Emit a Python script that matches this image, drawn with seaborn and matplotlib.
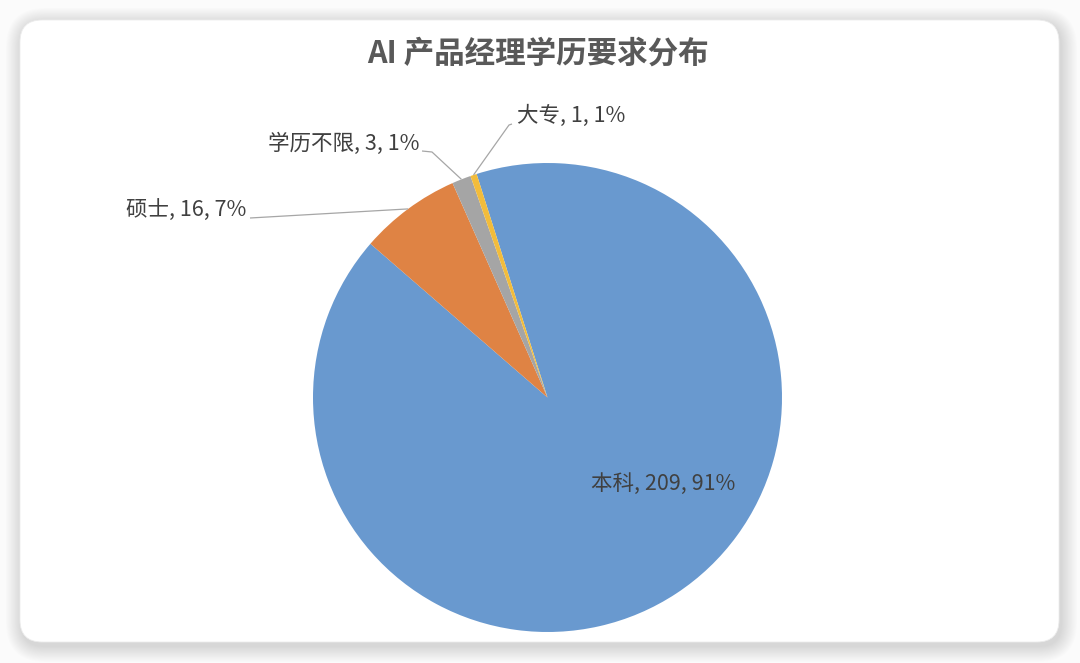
import numpy as np
import matplotlib
matplotlib.use("Agg")
import matplotlib.pyplot as plt
from matplotlib.patches import FancyBboxPatch
import seaborn as sns

# data
categories = ["本科", "硕士", "学历不限", "大专"]
counts = [209, 16, 3, 1]
percent_labels = ["91%", "7%", "1%", "1%"]
colors = ["#6999CF", "#DF8344", "#A5A5A5", "#F2BC3B"]
title = "AI 产品经理学历要求分布"

sns.set_theme(style="white")
plt.rcParams["font.family"] = ["Noto Sans CJK SC", "DejaVu Sans"]

W, H = 1080, 663
fig = plt.figure(figsize=(W / 100, H / 100), dpi=100, facecolor="#fbfbfb")
ax = fig.add_axes([0, 0, 1, 1])
ax.set_xlim(0, W)
ax.set_ylim(0, H)
ax.set_aspect("equal")
ax.axis("off")


def py(y):
    # pixel row (from top) -> data y
    return H - y


# card with soft shadow
cx0, cy0, cx1, cy1 = 20, 20, 1059, 642
for k in range(18, 0, -1):
    ax.add_patch(FancyBboxPatch((cx0 + 2 - k * 0.9, py(cy1) - 4 - k * 0.9),
                                cx1 - cx0 + k * 1.8, cy1 - cy0 + k * 1.8,
                                boxstyle=f"round,pad=0,rounding_size={22 + k}",
                                facecolor="#000000", edgecolor="none",
                                alpha=0.009, zorder=1))
ax.add_patch(FancyBboxPatch((cx0, py(cy1)), cx1 - cx0, cy1 - cy0,
                            boxstyle="round,pad=0,rounding_size=22",
                            facecolor="white", edgecolor="#ececec",
                            linewidth=0.6, zorder=2))

# pie
center = (547.5, py(397.5))
radius = 234.5
start = 107.6
wedges, _ = ax.pie(counts, colors=colors, startangle=start, counterclock=False,
                   center=center, radius=radius, frame=True,
                   wedgeprops=dict(linewidth=0, zorder=3))
ax.set_xlim(0, W)
ax.set_ylim(0, H)
ax.axis("off")

total = sum(counts)
cum = np.cumsum([0] + counts[:-1])
mids = [np.deg2rad(start - 360 * (c0 + c / 2) / total) for c0, c in zip(cum, counts)]

labels = [f"{n}, {c}, {p}" for n, c, p in zip(categories, counts, percent_labels)]
txt_color = "#404040"
line_color = "#a6a6a6"

# inside label for the big slice
ax.text(663, py(484), labels[0], ha="center", va="center", fontsize=15.5,
        color=txt_color, zorder=5)

# outside labels with leader lines: (text x, text y, ha, line anchor, elbow dx)
outside = {
    1: (246, 210, "right", (250, 218), 0),
    2: (419, 144, "right", (422, 151), 10),
    3: (517, 116, "left", (512, 124), -3),
}
for i, (tx, ty, ha, (ax0, ay0), dx) in outside.items():
    ax.text(tx, py(ty), labels[i], ha=ha, va="center", fontsize=15.5,
            color=txt_color, zorder=5)
    ex = center[0] + radius * np.cos(mids[i])
    ey = center[1] + radius * np.sin(mids[i])
    xs = [ax0, ax0 + dx, ex]
    ys = [py(ay0), py(ay0 + (1 if dx else 0)), ey]
    ax.plot(xs, ys, color=line_color, linewidth=0.9, zorder=4,
            solid_capstyle="butt")

ax.text(538, py(54), title, ha="center", va="center", fontsize=22,
        fontweight="heavy", style="italic", color="#595959", zorder=5)

fig.savefig("out.png", dpi=100, facecolor=fig.get_facecolor())
